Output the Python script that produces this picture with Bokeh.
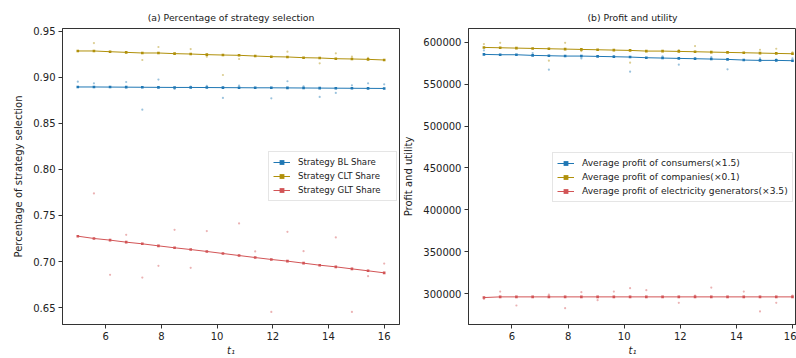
from bokeh.plotting import figure
from bokeh.layouts import row
from bokeh.models import Range1d, FixedTicker, NumeralTickFormatter, Legend, LegendItem
from bokeh.embed import file_html
from bokeh.resources import INLINE

# ---------------- data ----------------
t1 = [5 + i * 11 / 19 for i in range(20)]  # 20 evenly spaced t1 values from 5 to 16 (x positions)

bl_share = [0.8895, 0.8895, 0.8894, 0.8893, 0.8892, 0.8891, 0.8890, 0.8890, 0.8889, 0.8888,
            0.8887, 0.8886, 0.8886, 0.8885, 0.8884, 0.8883, 0.8882, 0.8881, 0.8880, 0.8879]
clt_share = [0.9286, 0.9286, 0.9278, 0.9271, 0.9264, 0.9264, 0.9257, 0.9253, 0.9246, 0.9242,
             0.9239, 0.9231, 0.9224, 0.9221, 0.9213, 0.9210, 0.9202, 0.9199, 0.9195, 0.9188]
glt_share = [0.7275, 0.7250, 0.7232, 0.7210, 0.7192, 0.7170, 0.7149, 0.7130, 0.7109, 0.7087,
             0.7065, 0.7043, 0.7022, 0.7004, 0.6982, 0.6960, 0.6942, 0.6920, 0.6899, 0.6877]

bl_raw_idx = [0, 1, 3, 4, 5, 6, 7, 8, 9, 10, 12, 13, 14, 15, 16, 17, 18, 19]
bl_raw = [0.8953, 0.8935, 0.8949, 0.8649, 0.8975, 0.8873, 0.8899, 0.8906, 0.8776, 0.8910,
          0.8772, 0.8957, 0.8902, 0.8787, 0.8830, 0.8913, 0.8935, 0.8924]
clt_raw_idx = [1, 4, 5, 7, 8, 9, 10, 13, 15, 16, 17, 18]
clt_raw = [0.9372, 0.9188, 0.9329, 0.9307, 0.9224, 0.9025, 0.9199, 0.9278, 0.9152, 0.9260,
           0.9224, 0.9210]
glt_raw_idx = [1, 2, 3, 4, 5, 6, 7, 8, 10, 11, 12, 13, 14, 16, 17, 18, 19]
glt_raw = [0.7739, 0.6855, 0.7290, 0.6826, 0.6953, 0.7344, 0.6931, 0.7330, 0.7413, 0.7109,
           0.6453, 0.7322, 0.7112, 0.7261, 0.6453, 0.6841, 0.6978]

consumers = [585714, 585317, 585317, 584524, 584127, 583730, 583730, 583333, 582937, 582540,
             581746, 581349, 580952, 580556, 580159, 579762, 578968, 578571, 578571, 578175]
companies = [594048, 593651, 593254, 592857, 592460, 592063, 591667, 591270, 590873, 590476,
             589683, 589683, 589286, 588889, 588492, 588095, 587698, 587302, 586905, 586508]
generators = [295200, 296000, 296000, 296000, 296000, 296000, 296000, 296000, 296000, 296000,
              296000, 296000, 296000, 296000, 296000, 296000, 296000, 296000, 296000, 296000]

cons_raw_idx = [0, 3, 4, 6, 8, 9, 11, 12, 13, 14, 15, 17, 18, 19]
cons_raw = [590476, 587302, 567460, 580952, 583730, 565079, 583333, 573413, 581349, 582540,
            567857, 580952, 579762, 580952]
comp_raw_idx = [0, 1, 4, 5, 6, 9, 12, 13, 17, 18, 19]
comp_raw = [598016, 599603, 578175, 599603, 589683, 575794, 590873, 595635, 591270, 592460, 588095]
gen_raw_idx = [0, 1, 2, 4, 5, 6, 7, 8, 9, 10, 12, 13, 14, 16, 17, 18, 19]
gen_raw = [293600, 302381, 285714, 298810, 282540, 301587, 292063, 302381, 306349, 303968,
           288889, 297619, 307143, 302381, 278571, 288889, 297619]

x_ticks = [6, 8, 10, 12, 14, 16]
left_y_ticks = [0.65, 0.70, 0.75, 0.80, 0.85, 0.90, 0.95]
right_y_ticks = [300000, 350000, 400000, 450000, 500000, 550000, 600000]

left_labels = ["Strategy BL Share", "Strategy CLT Share", "Strategy GLT Share"]
right_labels = ["Average profit of consumers(\u00d71.5)", "Average profit of companies(\u00d70.1)",
                "Average profit of electricity generators(\u00d73.5)"]

BLUE = "#1f77b4"
GOLD = "#b0900a"
RED = "#d25456"
FONT = "DejaVu Sans"


def style(p, ylabel):
    p.xgrid.visible = False
    p.ygrid.visible = False
    p.outline_line_color = "#333333"
    p.outline_line_width = 1
    for ax in (p.xaxis[0], p.yaxis[0]):
        ax.axis_line_color = "#333333"
        ax.major_tick_line_color = "#333333"
        ax.major_tick_in = 0
        ax.major_tick_out = 4
        ax.minor_tick_line_color = None
        ax.major_label_text_font = FONT
        ax.major_label_text_font_size = "10px"
        ax.major_label_text_color = "#222222"
        ax.axis_label_text_font = FONT
        ax.axis_label_text_font_size = "10px"
        ax.axis_label_text_font_style = "normal"
        ax.axis_label_text_color = "#222222"
    p.xaxis[0].ticker = FixedTicker(ticks=x_ticks)
    p.xaxis[0].major_label_standoff = 3
    p.xaxis[0].axis_label = "t\u2081"
    p.xaxis[0].axis_label_text_font_style = "italic"
    p.xaxis[0].axis_label_standoff = 2
    p.yaxis[0].axis_label = ylabel
    p.yaxis[0].major_label_standoff = 3
    p.yaxis[0].axis_label_standoff = 6
    p.title.text_font = FONT
    p.title.text_font_size = "9.3px"
    p.title.text_font_style = "normal"
    p.title.text_color = "#222222"
    p.title.align = "center"
    p.title.standoff = 12


def series(p, ys, raw_idx, raw, color):
    line = p.line(t1, ys, line_color=color, line_width=1)
    pts = p.scatter(t1, ys, marker="square", size=2.6, fill_color=color, line_color=None)
    p.scatter([t1[i] for i in raw_idx], raw, marker="circle", size=2.2,
              fill_color=color, line_color=None, fill_alpha=0.45)
    return [line, pts]


# ---------------- left panel ----------------
pa = figure(width=400, height=358, output_backend="svg", toolbar_location=None,
            title="(a) Percentage of strategy selection",
            x_range=Range1d(4.45, 16.55), y_range=Range1d(0.6316, 0.953),
            min_border_left=62, min_border_right=1, min_border_top=28, min_border_bottom=33)
style(pa, "Percentage of strategy selection")
pa.yaxis[0].ticker = FixedTicker(ticks=left_y_ticks)
pa.yaxis[0].formatter = NumeralTickFormatter(format="0.00")

ra = [series(pa, bl_share, bl_raw_idx, bl_raw, BLUE),
      series(pa, clt_share, clt_raw_idx, clt_raw, GOLD),
      series(pa, glt_share, glt_raw_idx, glt_raw, RED)]
leg_a = Legend(items=[LegendItem(label=l, renderers=r) for l, r in zip(left_labels, ra)],
               location="center_right")
leg_a.label_text_font_size = "8.6px"
leg_a.label_width = 94

# ---------------- right panel ----------------
pb = figure(width=396, height=358, output_backend="svg", toolbar_location=None,
            title="(b) Profit and utility",
            x_range=Range1d(4.45, 16.143), y_range=Range1d(263000, 616667),
            min_border_left=68, min_border_right=0, min_border_top=28, min_border_bottom=33)
style(pb, "Profit and utility")
pb.yaxis[0].ticker = FixedTicker(ticks=right_y_ticks)
pb.yaxis[0].formatter = NumeralTickFormatter(format="0")

rb = [series(pb, consumers, cons_raw_idx, cons_raw, BLUE),
      series(pb, companies, comp_raw_idx, comp_raw, GOLD),
      series(pb, generators, gen_raw_idx, gen_raw, RED)]
leg_b = Legend(items=[LegendItem(label=l, renderers=r) for l, r in zip(right_labels, rb)],
               location=(84, 122))
leg_b.label_text_font_size = "9.1px"

for leg in (leg_a, leg_b):
    leg.label_text_font = FONT
    leg.label_text_color = "#222222"
    leg.label_height = 12
    leg.glyph_height = 12
    leg.glyph_width = 17
    leg.label_standoff = 8
    leg.spacing = 2
    leg.padding = 4
    leg.margin = 2
    leg.border_line_color = "#cccccc"
    leg.border_line_width = 1
    leg.background_fill_alpha = 0.85

pa.add_layout(leg_a)
pb.add_layout(leg_b)

layout = row(pa, pb)
open("out.html", "w").write(file_html(layout, INLINE))
